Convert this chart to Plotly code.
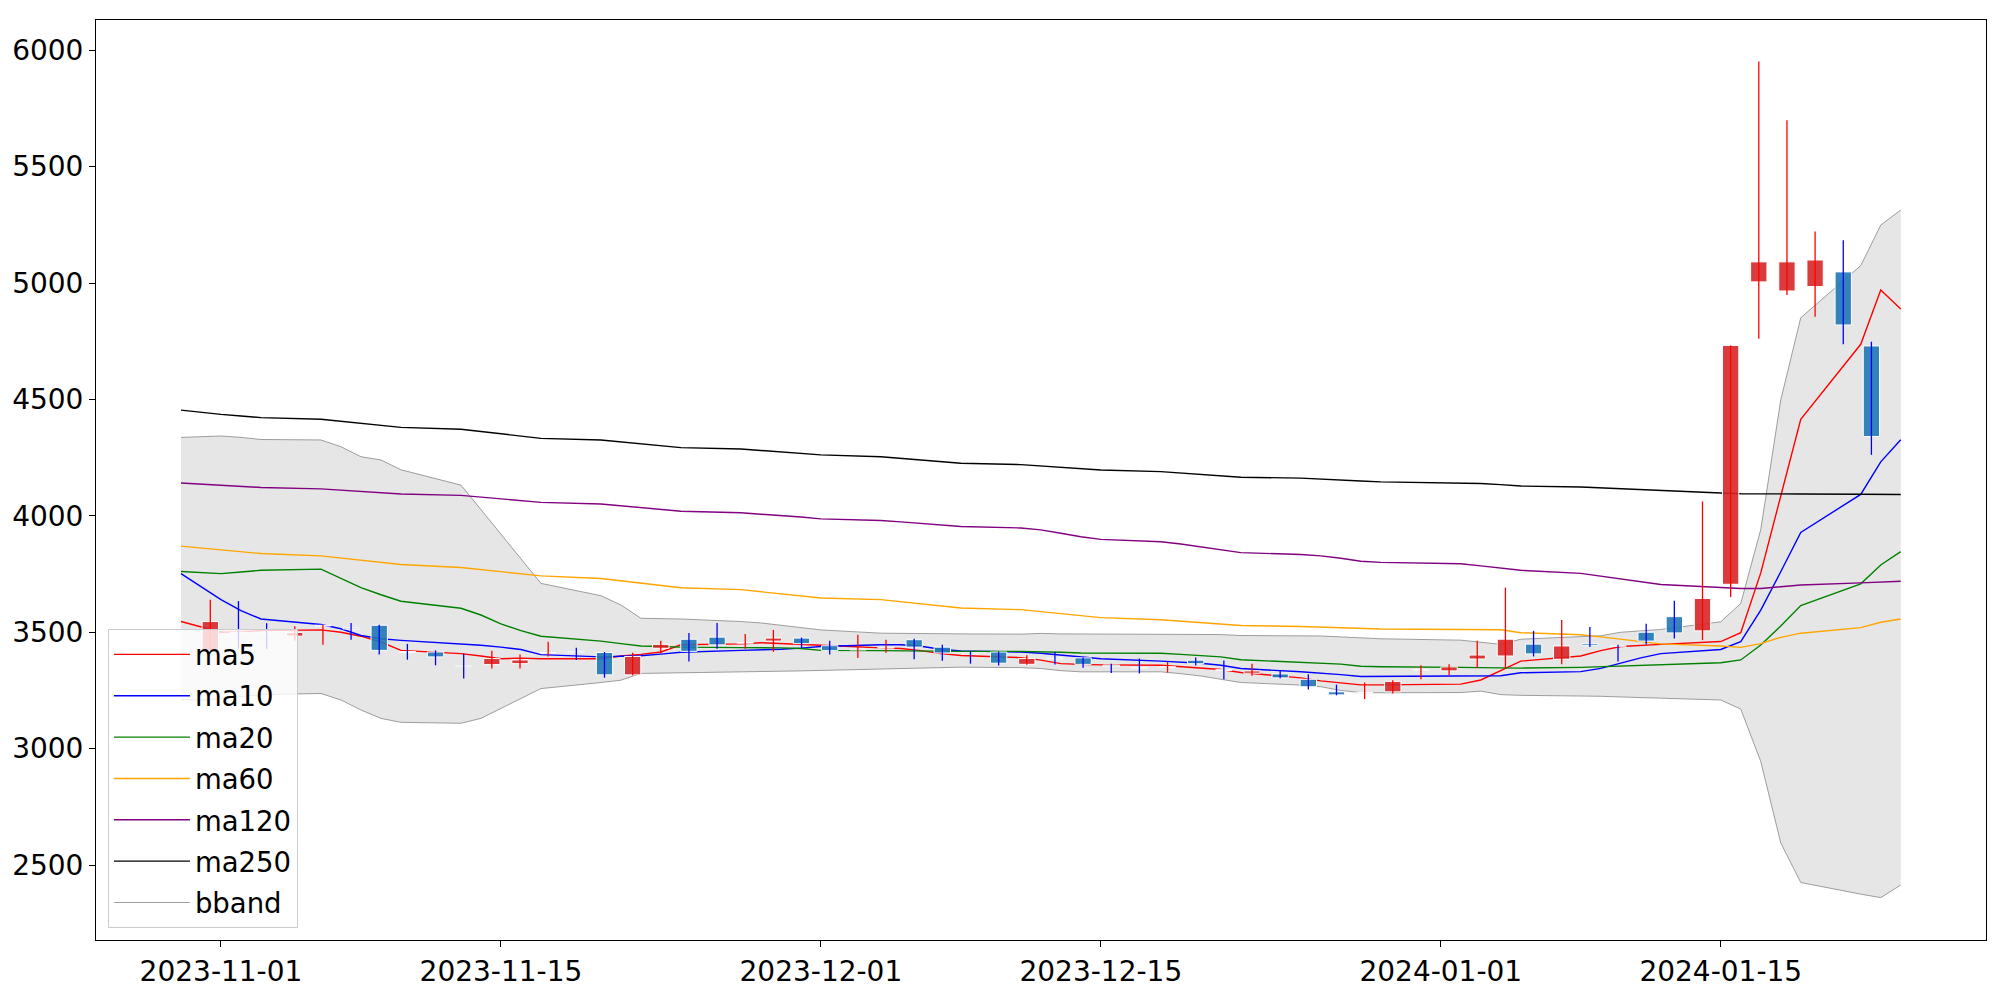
import plotly.graph_objects as go

# ---- line series (trading dates) ----
dates = ["2023-10-30", "2023-10-31",
         "2023-11-01", "2023-11-02", "2023-11-03",
         "2023-11-06", "2023-11-07", "2023-11-08", "2023-11-09", "2023-11-10",
         "2023-11-13", "2023-11-14", "2023-11-15", "2023-11-16", "2023-11-17",
         "2023-11-20", "2023-11-21", "2023-11-22", "2023-11-23", "2023-11-24",
         "2023-11-27", "2023-11-28", "2023-11-29", "2023-11-30", "2023-12-01",
         "2023-12-04", "2023-12-05", "2023-12-06", "2023-12-07", "2023-12-08",
         "2023-12-11", "2023-12-12", "2023-12-13", "2023-12-14", "2023-12-15",
         "2023-12-18", "2023-12-19", "2023-12-20", "2023-12-21", "2023-12-22",
         "2023-12-25", "2023-12-26", "2023-12-27", "2023-12-28", "2023-12-29",
         "2024-01-02", "2024-01-03", "2024-01-04", "2024-01-05",
         "2024-01-08", "2024-01-09", "2024-01-10", "2024-01-11", "2024-01-12",
         "2024-01-15", "2024-01-16", "2024-01-17", "2024-01-18", "2024-01-19",
         "2024-01-22", "2024-01-23", "2024-01-24"]

ma5 = [3546, 3522, 3500, 3502, 3507, 3510, 3500, 3483, 3458, 3422,
       3408, 3398, 3386, 3389, 3386, 3386, 3398, 3405, 3415, 3446,
       3450, 3455, 3452, 3449, 3444, 3433, 3430, 3421, 3408, 3400,
       3391, 3380, 3365, 3362, 3360, 3358, 3352, 3345, 3340, 3327,
       3304, 3291, 3283, 3274, 3274, 3277, 3295, 3335, 3376,
       3398, 3421, 3439, 3442, 3448, 3460, 3498, 3755, 4085, 4415,
       4737, 4970, 4889]
ma10 = [3752, 3697, 3640, 3593, 3557, 3533, 3515, 3486, 3472, 3465,
        3451, 3444, 3436, 3426, 3404, 3394, 3397, 3399, 3406, 3414,
        3422, 3424, 3427, 3432, 3439, 3446, 3446, 3440, 3427, 3420,
        3415, 3410, 3401, 3392, 3386, 3376, 3372, 3367, 3358, 3344,
        3330, 3325, 3318, 3310, 3310, 3310, 3311, 3313, 3326,
        3331, 3345, 3367, 3390, 3408, 3426, 3460, 3595, 3760, 3929,
        4092, 4232, 4327]
ma20 = [3761, 3756, 3752, 3759, 3766, 3771, 3731, 3692, 3661, 3633,
        3603, 3574, 3536, 3507, 3483, 3462, 3451, 3441, 3439, 3436,
        3434, 3434, 3433, 3430, 3422, 3421, 3420, 3419, 3418, 3418,
        3418, 3417, 3414, 3411, 3410, 3410, 3405, 3401, 3394, 3382,
        3372, 3369, 3363, 3354, 3352, 3349, 3348, 3346, 3346,
        3349, 3352, 3354, 3356, 3358, 3369, 3381, 3445, 3527, 3615,
        3708, 3789, 3846]
ma60 = [3870, 3862, 3853, 3845, 3838, 3828, 3819, 3809, 3800, 3791,
        3778, 3769, 3760, 3751, 3742, 3731, 3721, 3711, 3701, 3691,
        3683, 3674, 3665, 3656, 3647, 3640, 3631, 3622, 3613, 3604,
        3597, 3589, 3580, 3572, 3563, 3554, 3548, 3541, 3535, 3529,
        3525, 3522, 3519, 3515, 3514, 3512, 3512, 3511, 3498,
        3489, 3480, 3471, 3460, 3450, 3441, 3435, 3451, 3478, 3496,
        3520, 3543, 3557]
ma120 = [4141, 4137, 4133, 4127, 4122, 4116, 4111, 4105, 4099, 4094,
         4088, 4081, 4073, 4065, 4058, 4051, 4043, 4035, 4028, 4020,
         4013, 4008, 4002, 3995, 3987, 3980, 3974, 3967, 3960, 3954,
         3948, 3940, 3925, 3910, 3899, 3889, 3879, 3866, 3853, 3842,
         3834, 3828, 3818, 3805, 3800, 3794, 3785, 3775, 3766,
         3753, 3741, 3729, 3717, 3705, 3692, 3688, 3688, 3696, 3703,
         3712, 3716, 3719]
ma250 = [4454, 4444, 4436, 4429, 4422, 4415, 4406, 4397, 4389, 4380,
         4372, 4362, 4352, 4342, 4333, 4326, 4318, 4309, 4301, 4293,
         4287, 4281, 4275, 4268, 4262, 4254, 4247, 4240, 4233, 4226,
         4220, 4214, 4208, 4203, 4197, 4190, 4184, 4178, 4172, 4166,
         4162, 4159, 4155, 4150, 4146, 4142, 4139, 4134, 4128,
         4124, 4120, 4116, 4111, 4107, 4098, 4095, 4094, 4094, 4094,
         4093, 4093, 4092]
bb_upper = [4337, 4340, 4343, 4337, 4328, 4326, 4297, 4254, 4240, 4198,
            4132, 4027, 3920, 3813, 3710, 3657, 3617, 3560, 3559, 3557,
            3546, 3540, 3530, 3520, 3510, 3496, 3495, 3494, 3492, 3493,
            3492, 3495, 3493, 3493, 3493, 3492, 3492, 3493, 3490, 3486,
            3485, 3484, 3480, 3475, 3472, 3466, 3457, 3448, 3470,
            3480, 3485, 3500, 3506, 3512, 3545, 3624, 3941, 4498, 4851,
            5075, 5249, 5314]
bb_lower = [3210, 3208, 3215, 3225, 3232, 3237, 3209, 3166, 3130, 3113,
            3109, 3130, 3173, 3216, 3258, 3284, 3294, 3323, 3324, 3325,
            3330, 3331, 3332, 3334, 3336, 3342, 3344, 3346, 3350, 3350,
            3348, 3344, 3335, 3330, 3330, 3330, 3322, 3312, 3298, 3284,
            3273, 3266, 3250, 3241, 3240, 3241, 3247, 3232, 3229,
            3227, 3225, 3222, 3220, 3218, 3209, 3170, 2945, 2595, 2425,
            2375, 2360, 2414]

# ---- candles (plotted by position index) ----
c_open = [3422, 3500, 3500, 3483, 3527, 3518, 3530, 3417, 3415, 3356,
          3361, 3365, 3410, 3418, 3413, 3317, 3431, 3470, 3479, 3453,
          3462, 3475, 3442, 3424, 3432, 3468, 3436, 3410, 3415, 3362,
          3389, 3390, 3359, 3349, 3349, 3380, 3339, 3324, 3321, 3298,
          3244, 3238, 3244, 3337, 3334, 3385, 3398, 3449, 3384, 3451,
          3442, 3500, 3567, 3506, 3706, 5005, 4966, 4985, 5048, 4730]
c_high = [3640, 3634, 3539, 3526, 3531, 3540, 3532, 3450, 3422, 3408,
          3421, 3404, 3459, 3433, 3415, 3412, 3463, 3497, 3540, 3492,
          3510, 3477, 3463, 3489, 3468, 3472, 3446, 3419, 3417, 3401,
          3415, 3392, 3365, 3387, 3372, 3391, 3379, 3365, 3337, 3320,
          3275, 3284, 3294, 3358, 3362, 3463, 3692, 3506, 3553, 3523,
          3446, 3537, 3635, 4062, 4732, 5952, 5699, 5222, 5184, 4748]
c_low = [3418, 3429, 3429, 3463, 3446, 3468, 3404, 3382, 3358, 3301,
         3344, 3344, 3396, 3381, 3305, 3315, 3409, 3374, 3429, 3429,
         3416, 3431, 3404, 3389, 3412, 3384, 3378, 3365, 3357, 3360,
         3361, 3348, 3325, 3323, 3327, 3357, 3298, 3313, 3302, 3254,
         3229, 3213, 3237, 3298, 3315, 3347, 3347, 3396, 3362, 3437,
         3374, 3447, 3473, 3466, 3651, 4761, 4949, 4855, 4737, 4262]
c_close = [3546, 3496, 3495, 3499, 3530, 3514, 3422, 3413, 3394, 3352,
           3387, 3381, 3413, 3414, 3317, 3396, 3448, 3418, 3446, 3456,
           3475, 3451, 3421, 3427, 3435, 3436, 3411, 3406, 3367, 3387,
           3386, 3362, 3355, 3345, 3352, 3365, 3336, 3334, 3304, 3266,
           3231, 3241, 3289, 3339, 3351, 3402, 3470, 3407, 3441, 3444,
           3440, 3462, 3497, 3645, 4732, 5091, 5091, 5099, 4820, 4341]

FONT = "DejaVu Sans"
fig = go.Figure()

# Bollinger band
fig.add_trace(go.Scatter(x=dates, y=bb_upper, mode="lines", name="bband",
                         line=dict(color="rgba(128,128,128,0.75)", width=1),
                         legendrank=7, legendgroup="g7"))
fig.add_trace(go.Scatter(x=dates, y=bb_lower, mode="lines", name="bband",
                         line=dict(color="rgba(128,128,128,0.75)", width=1),
                         fill="tonexty", fillcolor="rgba(128,128,128,0.2)",
                         showlegend=False, legendgroup="g7"))

series = [("ma5", ma5, "#ff0000"), ("ma10", ma10, "#0000ff"),
          ("ma20", ma20, "#008000"), ("ma60", ma60, "#ffa500"),
          ("ma120", ma120, "#800080"), ("ma250", ma250, "#000000")]
for k, (nm, vals, col) in enumerate(series):
    fig.add_trace(go.Scatter(x=dates, y=vals, mode="lines", name=nm,
                             line=dict(color=col, width=1.4),
                             legendrank=k + 1, legendgroup="g%d" % k))

# candles on a second (index) x axis
idx = list(range(len(c_open)))
up = [i for i in idx if c_close[i] >= c_open[i]]
dn = [i for i in idx if c_close[i] < c_open[i]]


def wick_xy(sel):
    xs, ys = [], []
    for i in sel:
        xs += [i, i, None]
        ys += [c_low[i], c_high[i], None]
    return xs, ys


for sel, wc, bc in [(up, "#ff0000", "rgba(214,39,40,0.9)"),
                    (dn, "#0000ff", "rgba(31,119,180,0.9)")]:
    wx, wy = wick_xy(sel)
    fig.add_trace(go.Scatter(x=wx, y=wy, mode="lines", xaxis="x2",
                             line=dict(color=wc, width=1.3),
                             showlegend=False, hoverinfo="skip"))
    fig.add_trace(go.Bar(x=sel,
                         base=[min(c_open[i], c_close[i]) for i in sel],
                         y=[max(abs(c_close[i] - c_open[i]), 1.5) for i in sel],
                         width=0.58, xaxis="x2",
                         marker=dict(color=bc, line=dict(color="white", width=1)),
                         showlegend=False))

axis_common = dict(showline=True, linecolor="black", linewidth=1, mirror=True,
                   ticks="outside", ticklen=6, tickwidth=1, tickcolor="black",
                   showgrid=False, zeroline=False,
                   tickfont=dict(family=FONT, size=28, color="black"))

fig.update_layout(
    width=2000, height=1000,
    margin=dict(l=96, r=14, t=20, b=54),
    paper_bgcolor="white", plot_bgcolor="white",
    font=dict(family=FONT, color="black"),
    barmode="overlay",
    xaxis=dict(type="date",
               range=["2023-10-25 18:00", "2024-01-28 06:20"],
               tickvals=["2023-11-01", "2023-11-15", "2023-12-01",
                         "2023-12-15", "2024-01-01", "2024-01-15"],
               ticktext=["2023-11-01", "2023-11-15", "2023-12-01",
                         "2023-12-15", "2024-01-01", "2024-01-15"],
               **axis_common),
    xaxis2=dict(overlaying="x", anchor="y", visible=False,
                range=[-4.06, 63.07]),
    yaxis=dict(range=[2178, 6130], tickvals=[2500, 3000, 3500, 4000, 4500,
                                             5000, 5500, 6000],
               **axis_common),
    legend=dict(x=0.0063, y=0.013, xanchor="left", yanchor="bottom",
                bgcolor="rgba(255,255,255,0.8)", bordercolor="#cccccc",
                borderwidth=1, font=dict(family=FONT, size=27.5),
                tracegroupgap=2.6, itemwidth=76),
    showlegend=True,
)

fig.write_html("out.html",
               config={"displayModeBar": False},
               post_script="document.body.style.margin='0';"
                           "document.body.style.overflow='hidden';")
